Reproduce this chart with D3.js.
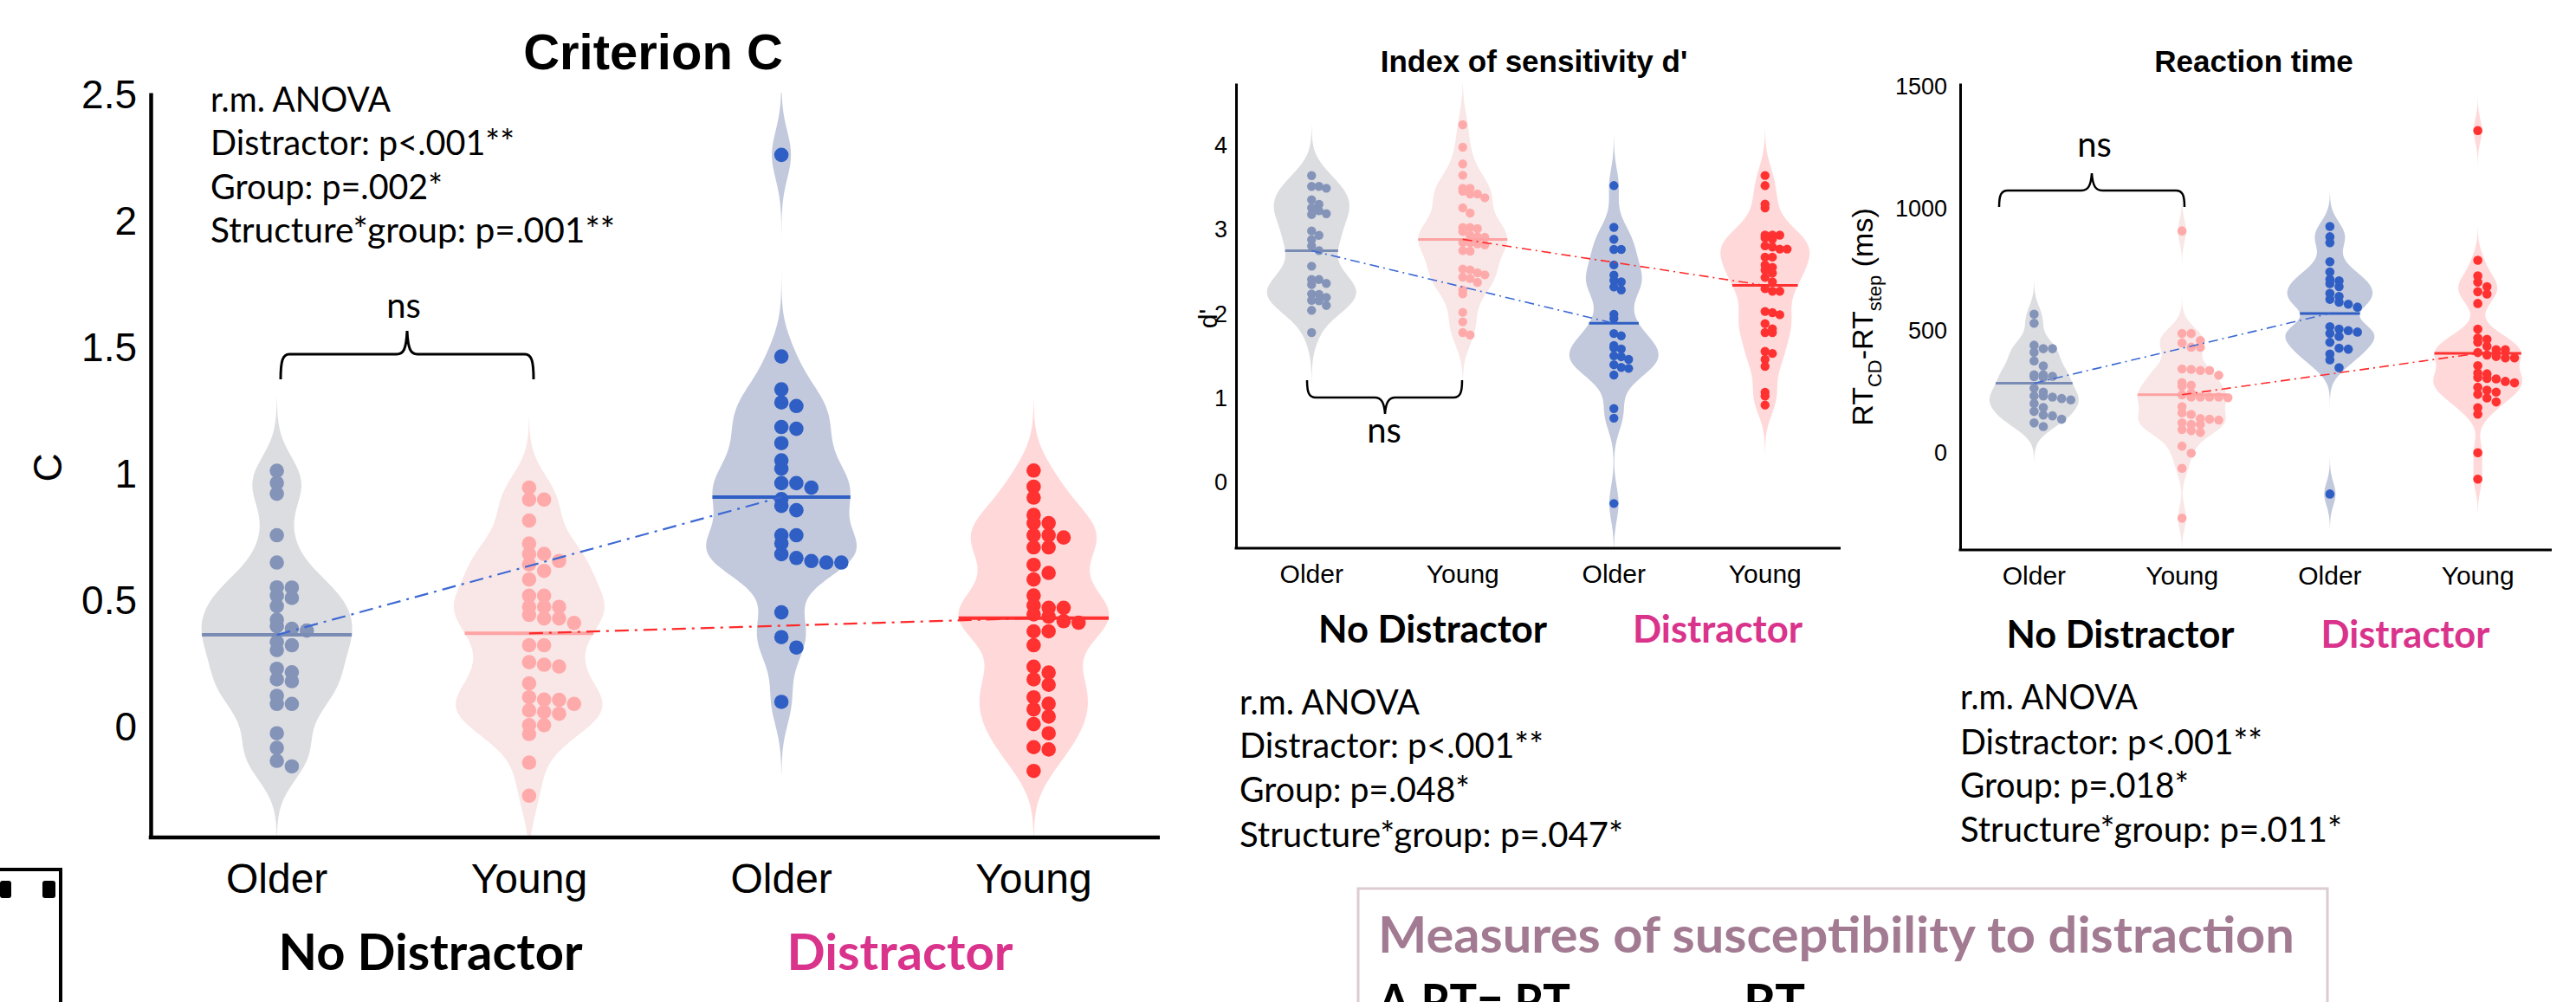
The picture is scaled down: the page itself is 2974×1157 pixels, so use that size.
<!DOCTYPE html>
<html lang="en">
<head>
  <meta charset="UTF-8">
  <title>Criterion C, d' and reaction time</title>
  <script src="https://d3js.org/d3.v7.min.js"></script>
  <style>
    body { margin: 0; background: #fff; }
    svg { display: block; }
    .num { font-family: "Liberation Sans", Arial, sans-serif; }
    .cal { font-family: Lato, "Open Sans", sans-serif; }
  </style>
</head>
<body>
  <div id="chart"></div>
  <script>
    // groups, in plotting order
    const groupKeys = ["ND-Older", "ND-Young", "D-Older", "D-Young"];
    const xLabels = ["Older", "Young", "Older", "Young"];

    // Criterion C
    const cOlderND = [1.015, 0.967, 0.924, 0.760, 0.652, 0.554, 0.553, 0.521, 0.512, 0.480, 0.426, 0.400, 0.390, 0.383, 0.338, 0.325, 0.306, 0.232, 0.218, 0.190, 0.183, 0.125, 0.093, 0.093, -0.023, -0.081, -0.132, -0.154];
    const cYoungND = [0.948, 0.901, 0.901, 0.818, 0.727, 0.686, 0.686, 0.658, 0.645, 0.619, 0.585, 0.521, 0.521, 0.477, 0.477, 0.477, 0.445, 0.431, 0.431, 0.413, 0.325, 0.325, 0.258, 0.248, 0.241, 0.174, 0.119, 0.110, 0.109, 0.093, 0.067, 0.061, 0.054, 0.009, 0.009, -0.026, -0.139, -0.270];
    const cOlderD = [2.264, 1.467, 1.337, 1.285, 1.271, 1.188, 1.181, 1.124, 1.056, 1.023, 0.966, 0.966, 0.948, 0.903, 0.876, 0.859, 0.760, 0.760, 0.728, 0.685, 0.670, 0.658, 0.652, 0.652, 0.455, 0.357, 0.316, 0.101];
    const cYoungD = [1.016, 0.952, 0.909, 0.840, 0.808, 0.808, 0.760, 0.760, 0.751, 0.712, 0.712, 0.643, 0.611, 0.585, 0.522, 0.482, 0.473, 0.473, 0.447, 0.438, 0.420, 0.414, 0.380, 0.380, 0.325, 0.240, 0.217, 0.190, 0.169, 0.119, 0.094, 0.071, 0.043, 0.013, -0.023, -0.078, -0.087, -0.172];

    // index of sensitivity d'
    const dOlderND = [3.641, 3.512, 3.512, 3.491, 3.354, 3.299, 3.258, 3.224, 3.189, 3.179, 2.984, 2.932, 2.881, 2.806, 2.751, 2.566, 2.408, 2.408, 2.361, 2.347, 2.237, 2.230, 2.196, 2.161, 2.155, 2.100, 2.042, 1.778];
    const dYoungND = [4.245, 3.977, 3.779, 3.645, 3.491, 3.491, 3.456, 3.422, 3.422, 3.378, 3.258, 3.196, 3.025, 3.025, 3.011, 2.977, 2.932, 2.915, 2.908, 2.847, 2.847, 2.830, 2.819, 2.751, 2.744, 2.532, 2.522, 2.487, 2.463, 2.436, 2.419, 2.374, 2.282, 2.237, 2.018, 1.905, 1.778, 1.750];
    const dOlderD = [3.522, 3.027, 2.885, 2.765, 2.765, 2.581, 2.460, 2.397, 2.379, 2.319, 2.284, 1.994, 1.944, 1.767, 1.739, 1.625, 1.597, 1.583, 1.502, 1.491, 1.459, 1.396, 1.364, 1.353, 1.274, 0.876, 0.762, -0.250];
    const dYoungD = [3.642, 3.522, 3.302, 3.257, 2.934, 2.934, 2.934, 2.902, 2.885, 2.807, 2.793, 2.769, 2.769, 2.673, 2.673, 2.581, 2.553, 2.521, 2.485, 2.432, 2.379, 2.298, 2.269, 2.269, 2.029, 2.014, 1.990, 1.884, 1.823, 1.778, 1.778, 1.555, 1.530, 1.459, 1.377, 1.070, 1.024, 0.918];

    // reaction time RT_CD - RT_step (ms)
    const rtOlderND = [568, 531, 441, 427, 427, 412, 377, 356, 320, 320, 314, 312, 309, 265, 249, 233, 233, 229, 223, 217, 202, 186, 170, 155, 152, 138, 123, 108];
    const rtYoungND = [909, 489, 489, 460, 450, 433, 433, 344, 342, 338, 338, 318, 288, 277, 273, 245, 238, 229, 229, 229, 229, 226, 190, 164, 158, 141, 138, 135, 123, 117, 117, 96, 91, 84, 28, -1, -63, -267];
    const rtOlderD = [927, 885, 861, 783, 741, 711, 705, 693, 681, 653, 641, 629, 617, 609, 597, 517, 507, 501, 495, 489, 477, 453, 429, 425, 405, 381, 349, -168];
    const rtYoungD = [1320, 789, 725, 699, 681, 660, 651, 612, 507, 471, 465, 453, 437, 423, 423, 411, 401, 395, 389, 389, 357, 327, 324, 309, 305, 303, 293, 287, 269, 257, 249, 240, 225, 209, 185, 159, 1, -107];

    // tick labels
    const cTicks = [0, 0.5, 1, 1.5, 2, 2.5];
    const dTicks = [0, 1, 2, 3, 4];
    const rtTicks = [0, 500, 1000, 1500];

    // statistics text
    const anovaC = ["r.m. ANOVA", "Distractor: p<.001**", "Group: p=.002*", "Structure*group: p=.001**"];
    const anovaD = ["r.m. ANOVA", "Distractor: p<.001**", "Group: p=.048*", "Structure*group: p=.047*"];
    const anovaRT = ["r.m. ANOVA", "Distractor: p<.001**", "Group: p=.018*", "Structure*group: p=.011*"];

    const violinFill = ["#dcdde1", "#f9e7e7", "#c2c9dc", "#ffd9d9"];
    const dotFill = ["#8494b8", "#ffaaaa", "#2f5fc4", "#ff3131"];
    const meanStroke = ["#7b8cb4", "#ffa2a2", "#2f5fc4", "#ff3131"];
    const magenta = "#d9338c";

    const W = 2974, H = 1157;
    const svg = d3.select("#chart").append("svg")
      .attr("width", W).attr("height", H);
    svg.append("rect").attr("width", W).attr("height", H).attr("fill", "#fff");

    const panels = [
      {
        id: "c", groups: [cOlderND, cYoungND, cOlderD, cYoungD], ticks: cTicks,
        x0: 174, x1: 1339, yTop: 107, yBot: 967, domain: [-0.435, 2.51],
        bw: 0.095, halfW: 87, r: 8.3, dx: 17.3, binH: 14,
        axisW: 4.5, tickFont: 46, tickPad: 16, xFont: 48, xPad: 30, meanW: 4,
        linkW: 2.2, dash: "16,7,3,7",
        title: "Criterion C", titleX: 754, titleY: 80, titleFont: 58,
        yLabel: "C", yLabelX: 71, yLabelY: 540, yLabelFont: 46,
        groupY: 1120, groupFont: 57, ndX: 497, ndW: 351, dX: 1039, dW: 261,
        anova: anovaC, anovaX: 243, anovaY: [129, 179, 230, 280], anovaW: [208, 351, 268, 467], anovaFont: 41,
        brace: { x0: 324, x1: 616, xm: 470, yEnd: 438, yBar: 409, yTip: 382 }, braceW: 3,
        nsX: 466, nsY: 367
      },
      {
        id: "d", groups: [dOlderND, dYoungND, dOlderD, dYoungD], ticks: dTicks,
        x0: 1427, x1: 2125, yTop: 96, yBot: 633, domain: [-0.781, 4.738],
        bw: 0.2, halfW: 51.5, r: 5.2, dx: 8.5, binH: 9,
        axisW: 3, tickFont: 27, tickPad: 10, xFont: 30, xPad: 19, meanW: 3,
        linkW: 1.6, dash: "11,5,2,5",
        title: "Index of sensitivity d'", titleX: 1771, titleY: 83, titleFont: 35,
        yLabel: "d'", yLabelX: 1405, yLabelY: 368, yLabelFont: 30,
        groupY: 742, groupFont: 43, ndX: 1654, ndW: 264, dX: 1983, dW: 196,
        anova: anovaD, anovaX: 1431, anovaY: [825, 875, 926, 978], anovaW: [208, 351, 266, 443], anovaFont: 40,
        brace: { x0: 1509, x1: 1688, xm: 1599, yEnd: 439, yBar: 459, yTip: 478 }, braceW: 2.5,
        nsX: 1598, nsY: 511
      },
      {
        id: "rt", groups: [rtOlderND, rtYoungND, rtOlderD, rtYoungD], ticks: rtTicks,
        x0: 2263, x1: 2946, yTop: 96, yBot: 635, domain: [-397, 1514],
        bw: 47, halfW: 51.5, r: 5.3, dx: 10.6, binH: 10,
        axisW: 3, tickFont: 27, tickPad: 15, xFont: 30, xPad: 19, meanW: 3,
        linkW: 1.6, dash: "11,5,2,5",
        title: "Reaction time", titleX: 2602, titleY: 83, titleFont: 35,
        yLabel: null, yLabelX: 2162, yLabelY: 366, yLabelFont: 34,
        groupY: 748, groupFont: 43, ndX: 2448, ndW: 263, dX: 2777, dW: 195,
        anova: anovaRT, anovaX: 2263, anovaY: [819, 871, 921, 972], anovaW: [205, 349, 264, 441], anovaFont: 40,
        brace: { x0: 2308, x1: 2522, xm: 2415, yEnd: 239, yBar: 220, yTip: 200 }, braceW: 2.5,
        nsX: 2418, nsY: 181
      }
    ];

    // gaussian kernel density, evaluated from min-3bw to max+3bw
    function density(vals, bw) {
      const f = t => d3.mean(vals, v => Math.exp(-0.5 * ((t - v) / bw) ** 2));
      const lo = d3.min(vals) - 3 * bw, hi = d3.max(vals) + 3 * bw;
      const pts = d3.range(0, 241).map(i => {
        const t = lo + (hi - lo) * i / 240;
        return [t, f(t)];
      });
      return { pts, f, max: d3.max(pts, d => d[1]) };
    }

    // one-sided dot swarm: points sharing a pixel bin go side by side
    function swarm(vals, y, binH) {
      const pts = vals.map(v => ({ v, py: y(v) }));
      d3.group(pts, p => Math.round(p.py / binH)).forEach(arr => {
        arr.sort((a, b) => b.v - a.v).forEach((p, i) => { p.col = i; });
      });
      return pts;
    }

    panels.forEach(p => {
      const g = svg.append("g").attr("class", "panel-" + p.id);

      const x = d3.scaleBand().domain(groupKeys).range([p.x0, p.x1]).padding(0);
      const y = d3.scaleLinear().domain(p.domain).range([p.yBot, p.yTop]);
      const cx = k => x(k) + x.bandwidth() / 2;

      g.append("clipPath").attr("id", "clip-" + p.id)
        .append("rect")
        .attr("x", p.x0).attr("y", p.yTop)
        .attr("width", p.x1 - p.x0).attr("height", p.yBot - p.yTop);

      const means = p.groups.map(vals => d3.mean(vals));
      const dens = p.groups.map(vals => density(vals, p.bw));

      // violins
      const plot = g.append("g").attr("clip-path", `url(#clip-${p.id})`);
      p.groups.forEach((vals, i) => {
        const c = cx(groupKeys[i]);
        const w = d => p.halfW * d / dens[i].max;
        const area = d3.area()
          .curve(d3.curveBasis)
          .y(d => y(d[0]))
          .x0(d => c - w(d[1]))
          .x1(d => c + w(d[1]));
        plot.append("path")
          .datum(dens[i].pts)
          .attr("d", area)
          .attr("fill", violinFill[i]);
      });

      // dots
      p.groups.forEach((vals, i) => {
        const c = cx(groupKeys[i]);
        g.append("g").selectAll("circle")
          .data(swarm(vals, y, p.binH))
          .join("circle")
          .attr("cx", d => c + d.col * p.dx)
          .attr("cy", d => d.py)
          .attr("r", p.r)
          .attr("fill", dotFill[i]);
      });

      // mean lines, as wide as the violin at the mean
      p.groups.forEach((vals, i) => {
        const c = cx(groupKeys[i]);
        const hw = p.halfW * dens[i].f(means[i]) / dens[i].max;
        g.append("line")
          .attr("x1", c - hw).attr("x2", c + hw)
          .attr("y1", y(means[i])).attr("y2", y(means[i]))
          .attr("stroke", meanStroke[i])
          .attr("stroke-width", p.meanW);
      });

      // no distractor -> distractor links
      [[0, 2, "#3d69d4"], [1, 3, "#ff2a2a"]].forEach(([a, b, col]) => {
        g.append("line")
          .attr("x1", cx(groupKeys[a])).attr("y1", y(means[a]))
          .attr("x2", cx(groupKeys[b])).attr("y2", y(means[b]))
          .attr("stroke", col)
          .attr("stroke-width", p.linkW)
          .attr("stroke-dasharray", p.dash);
      });

      // axes
      const yAxis = g.append("g")
        .attr("transform", `translate(${p.x0},0)`)
        .call(d3.axisLeft(y).tickValues(p.ticks).tickFormat(d => String(d))
          .tickSize(0).tickSizeOuter(0).tickPadding(p.tickPad));
      yAxis.selectAll("text").attr("font-size", p.tickFont).attr("fill", "#000").attr("font-family", "Liberation Sans, Arial, sans-serif");
      yAxis.select(".domain").attr("stroke", "#000").attr("stroke-width", p.axisW);

      const xAxis = g.append("g")
        .attr("transform", `translate(0,${p.yBot})`)
        .call(d3.axisBottom(x).tickSize(0).tickSizeOuter(0).tickPadding(p.xPad)
          .tickFormat((d, i) => xLabels[i]));
      xAxis.selectAll("text").attr("font-size", p.xFont).attr("fill", "#000").attr("font-family", "Liberation Sans, Arial, sans-serif");
      xAxis.select(".domain").attr("stroke", "#000").attr("stroke-width", p.axisW)
        .attr("d", `M${p.x0 - p.axisW / 2},0H${p.x1}`);

      // title
      g.append("text")
        .attr("class", "num")
        .attr("x", p.titleX).attr("y", p.titleY)
        .attr("text-anchor", "middle")
        .attr("font-weight", "bold")
        .attr("font-size", p.titleFont)
        .text(p.title);

      // y label
      const yl = g.append("text")
        .attr("class", "num")
        .attr("transform", `translate(${p.yLabelX},${p.yLabelY}) rotate(-90)`)
        .attr("text-anchor", "middle")
        .attr("font-size", p.yLabelFont);
      if (p.yLabel) {
        yl.text(p.yLabel);
      } else {
        yl.append("tspan").text("RT");
        yl.append("tspan").attr("dy", 10).attr("font-size", 22).text("CD");
        yl.append("tspan").attr("dy", -10).text("-RT");
        yl.append("tspan").attr("dy", 10).attr("font-size", 22).text("step");
        yl.append("tspan").attr("dy", -10).text(" (ms)");
      }

      // condition labels
      [[p.ndX, p.ndW, "No Distractor", "#000"], [p.dX, p.dW, "Distractor", magenta]].forEach(([tx, tw, t, col]) => {
        g.append("text")
          .attr("class", "cal")
          .attr("x", tx).attr("y", p.groupY)
          .attr("text-anchor", "middle")
          .attr("font-weight", "bold")
          .attr("font-size", p.groupFont)
          .attr("fill", col)
          .attr("textLength", tw)
          .attr("lengthAdjust", "spacingAndGlyphs")
          .text(t);
      });

      // statistics
      p.anova.forEach((t, i) => {
        g.append("text")
          .attr("class", "cal")
          .attr("x", p.anovaX).attr("y", p.anovaY[i])
          .attr("font-size", p.anovaFont)
          .attr("textLength", p.anovaW[i])
          .attr("lengthAdjust", "spacingAndGlyphs")
          .text(t);
      });

      // curly brace + ns
      const b = p.brace, s = Math.sign(b.yBar - b.yEnd);
      const k = Math.abs(b.yBar - b.yEnd);
      g.append("path")
        .attr("d", `M${b.x0},${b.yEnd}
          C${b.x0},${b.yEnd + s * k * 0.7} ${b.x0 + 2},${b.yBar} ${b.x0 + 10},${b.yBar}
          H${b.xm - 12}
          C${b.xm - 4},${b.yBar} ${b.xm - 1},${b.yBar + s * 6} ${b.xm},${b.yTip}
          C${b.xm + 1},${b.yBar + s * 6} ${b.xm + 4},${b.yBar} ${b.xm + 12},${b.yBar}
          H${b.x1 - 10}
          C${b.x1 - 2},${b.yBar} ${b.x1},${b.yEnd + s * k * 0.7} ${b.x1},${b.yEnd}`)
        .attr("fill", "none")
        .attr("stroke", "#000")
        .attr("stroke-width", p.braceW);
      g.append("text")
        .attr("class", "cal")
        .attr("x", p.nsX).attr("y", p.nsY)
        .attr("text-anchor", "middle")
        .attr("font-size", 40)
        .text("ns");
    });

    // partly visible box at the bottom right (cut by the picture edge)
    svg.append("rect")
      .attr("x", 1568).attr("y", 1026)
      .attr("width", 1119).attr("height", 200)
      .attr("fill", "none")
      .attr("stroke", "#dccbd1")
      .attr("stroke-width", 3);
    svg.append("text")
      .attr("class", "cal")
      .attr("x", 1591).attr("y", 1100)
      .attr("font-size", 58).attr("font-weight", "bold")
      .attr("fill", "#a27b92")
      .attr("textLength", 1058).attr("lengthAdjust", "spacingAndGlyphs")
      .text("Measures of susceptibility to distraction");
    svg.append("text")
      .attr("class", "cal")
      .attr("x", 1591).attr("y", 1178)
      .attr("font-size", 58).attr("font-weight", "bold")
      .attr("textLength", 222).attr("lengthAdjust", "spacingAndGlyphs")
      .text("Δ RT= RT");
    svg.append("text")
      .attr("class", "cal")
      .attr("x", 2013).attr("y", 1178)
      .attr("font-size", 58).attr("font-weight", "bold")
      .text("RT");

    // corner of a neighbouring figure, bottom left
    svg.append("path")
      .attr("d", "M0,1004H70V1157")
      .attr("fill", "none").attr("stroke", "#000").attr("stroke-width", 4);
    svg.append("rect").attr("x", 0).attr("y", 1017).attr("width", 13).attr("height", 20).attr("rx", 3).attr("fill", "#000");
    svg.append("rect").attr("x", 49).attr("y", 1017).attr("width", 15).attr("height", 20).attr("rx", 3).attr("fill", "#000");
  </script>
</body>
</html>
